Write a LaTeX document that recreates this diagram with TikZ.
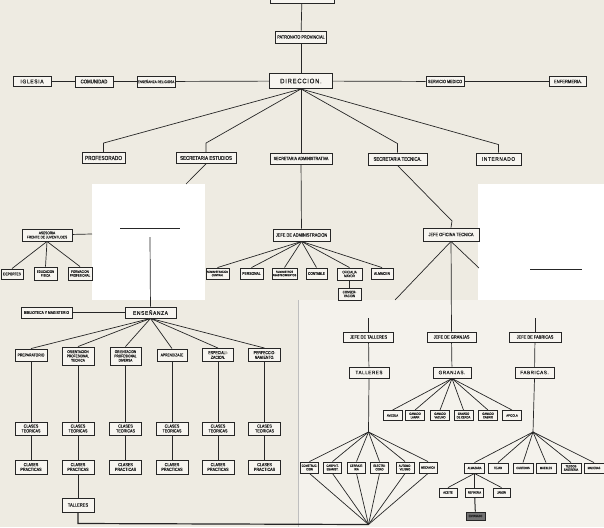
\documentclass[tikz,border=0pt]{standalone}
\usepackage{fontspec}
\setmainfont{Liberation Sans}
\newfontfamily\orgfont{Liberation Sans}[FakeStretch=0.82,FakeBold=0.6]
\newfontfamily\orgwide{Liberation Sans}[FakeStretch=0.9,FakeBold=0.6,LetterSpace=12]
\usepackage{xcolor}
\usepackage{tikz}
\usetikzlibrary{positioning,calc}

\definecolor{paper}{HTML}{EEEBE2}
\definecolor{patch}{HTML}{F4F2EC}
\definecolor{boxfill}{HTML}{F7F5F0}
\definecolor{ink}{HTML}{262626}

\begin{document}
\begin{tikzpicture}[x=1pt, y=-1pt,
        box/.style={draw=ink, fill=boxfill, line width=0.9pt, inner sep=0.4pt, align=center, text=ink, font=\orgfont\fontsize{5}{5.5}\selectfont},
        sz/.style 2 args={minimum width=#1pt, minimum height=#2pt},
        fs/.style 2 args={font=\orgfont\fontsize{#1}{#2}\selectfont},
        ws/.style 2 args={font=\orgwide\fontsize{#1}{#2}\selectfont},
        conn/.style={draw=ink, line width=0.7pt}
    ]

    % fondo del recorte
    \fill[paper] (0,0) rectangle (604,527);
    \fill[white] (92,184) rectangle (205,300);
    \fill[white] (478,184) rectangle (604,300);
    \fill[patch] (298,300) rectangle (604,527);
    \draw[ink!30, line width=0.3pt] (298,300) -- (298,527);
    \useasboundingbox (0,0) rectangle (604,527);

    % direccion
    \node[box, sz={64}{16}] (gobierno) at (302,-5) {};
    \node[box, sz={51}{12}, fs={4.7}{5}] (patronato) at (301,37) {PATRONATO PROVINCIAL};
    \node[box, sz={63}{15}, ws={6.5}{7}] (direccion) at (301,81) {DIRECCION.};

    \node[box, sz={38}{10}, ws={5.5}{6}] (iglesia) at (32,81.5) {IGLESIA};
    \node[box, sz={38}{11}, fs={5.3}{5.5}] (comunidad) at (94,81.5) {COMUNIDAD};
    \node[box, sz={38}{11}, fs={3.8}{4}] (ensrel) at (156,81.5) {ENSEÑANZA RELIGIOSA};
    \node[box, sz={38}{10}, fs={4.6}{5}] (servmed) at (445,81.5) {SERVICIO MEDICO};
    \node[box, sz={37}{10}, fs={5}{5}] (enfermeria) at (568,81.5) {ENFERMERIA.};

    % secretarias
    \node[box, sz={43}{11}, fs={5.8}{6}] (prof) at (103.5,158) {PROFESORADO};
    \node[box, sz={60}{11}, fs={5.4}{5.5}] (secest) at (206,158) {SECRETARIA ESTUDIOS};
    \node[box, sz={62}{11}, fs={4.5}{5}] (secadm) at (301,158.5) {SECRETARIA ADMINISTRATIVA};
    \node[box, sz={59}{12}, fs={5.2}{5.5}] (sectec) at (397.5,159) {SECRETARIA TECNICA.};
    \node[box, sz={45}{12}, ws={5.3}{6}] (intern) at (498.5,159) {INTERNADO};

    % asesoria
    \node[box, sz={50}{12}, fs={3.9}{4.2}] (asesoria) at (47,235) {ASESORIA\\FRENTE DE JUVENTUDES};
    \node[box, sz={22}{10}, fs={3.9}{4}] (deportes) at (12,274) {DEPORTES};
    \node[box, sz={23}{13}, fs={3.5}{3.8}] (edfis) at (45.5,273.5) {EDUCACION\\FISICA};
    \node[box, sz={24}{13}, fs={3.5}{3.8}] (formprof) at (80,273.5) {FORMACION\\PROFESIONAL};

    % administracion
    \node[box, sz={57}{12}, fs={4.8}{5}] (jefeadm) at (301.5,235) {JEFE DE ADMINISTRACION};
    \node[box, sz={23}{11}, fs={3}{3.4}] (admcent) at (217.5,273.5) {ADMINISTRACION\\CENTRAL};
    \node[box, sz={23}{11}, fs={4.1}{4}] (personal) at (251.5,273.5) {PERSONAL};
    \node[box, sz={25}{11}, fs={3}{3.4}] (suministros) at (284.5,273.5) {SUMINISTROS\\ABASTECIMIENTOS};
    \node[box, sz={21}{11}, fs={3.9}{4}] (contable) at (316.5,273.5) {CONTABLE};
    \node[box, sz={25}{12}, fs={3.6}{3.9}] (oficialia) at (349.5,274) {OFICIALIA\\MAYOR};
    \node[box, sz={22}{11}, fs={4}{4}] (almacen) at (382,273.5) {ALMACEN};
    \node[box, sz={23}{12}, fs={3.6}{3.9}] (conserv) at (349.5,294) {CONSER-\\VACION};

    % oficina tecnica
    \node[box, sz={56}{13}, fs={4.8}{5}] (jefeofi) at (451,234.5) {JEFE OFICINA TECNICA};

    % enseñanza
    \node[box, sz={51}{11}, ws={5.4}{6}] (ensenanza) at (150.5,312.5) {ENSEÑANZA};
    \node[box, sz={51}{11}, fs={4.1}{4.3}] (biblioteca) at (46.5,312.5) {BIBLIOTECA Y MAGISTERIO};
    \node[box, sz={32}{12}, fs={4.2}{4.3}] (ens1) at (31,355) {PREPARATORIO};
    \node[box, sz={32}{18}, fs={3.8}{4.3}] (ens2) at (78,356) {ORIENTACION\\PROFESIONAL\\TECNICA};
    \node[box, sz={31}{18}, fs={3.8}{4.3}] (ens3) at (125.5,356) {ORIENTACION\\PROFESIONAL\\DIVERSA};
    \node[box, sz={30}{12}, fs={4}{4.3}] (ens4) at (172,355) {APRENDIZAJE};
    \node[box, sz={31}{13}, fs={4.3}{4.7}] (ens5) at (218,355) {ESPECIALI-\\ZACION.};
    \node[box, sz={32}{13}, fs={4.3}{4.7}] (ens6) at (264.5,355) {PERFECCIO-\\NAMIENTO.};

    \foreach \i/\x in {1/31,2/78,3/125.5,4/172,5/218,6/264.5} {
        \node[box, sz={32}{13}, fs={4.5}{4.8}] (teo\i) at (\x,428.5) {CLASES\\TEORICAS};
        \node[box, sz={32}{14}, fs={4.5}{4.8}] (pra\i) at (\x,467) {CLASES\\PRACTICAS};
    }
    \node[box, sz={32}{14}, fs={4.9}{5}] (talleresA) at (78,505) {TALLERES};

    % jefaturas tecnicas
    \node[box, sz={50}{10}, fs={4.8}{5}] (jefetal) at (368.5,337) {JEFE DE TALLERES};
    \node[box, sz={49}{10}, fs={4.8}{5}] (jefegra) at (451.5,337) {JEFE DE GRANJAS};
    \node[box, sz={52}{10}, fs={4.8}{5}] (jefefab) at (535,337) {JEFE DE FABRICAS};
    \node[box, sz={40}{11}, ws={5}{5}] (talleres) at (369,372.5) {TALLERES};
    \node[box, sz={38}{11}, ws={5}{5}] (granjas) at (452,372.5) {GRANJAS.};
    \node[box, sz={39}{11}, ws={5}{5}] (fabricas) at (534.5,372.5) {FABRICAS.};

    \foreach \i/\x/\t in {1/392.5/AVICOLA, 2/415/{GANADO\\LANAR}, 3/440/{GANADO\\VACUNO},
            4/463.5/{GANADO\\DE CERDA}, 5/488/{GANADO\\CABRIO}, 6/512/APICOLA}
        \node[box, sz={19}{10}, fs={3.2}{3.5}] (gra\i) at (\x,415.5) {\t};

    \foreach \i/\x/\t in {1/309.5/{CONSTRUC-\\CION}, 2/332.5/{CARPINT.\\EBANIST.}, 3/356.5/{CERRAJE-\\RIA},
            4/379.5/{ELECTRI-\\CIDAD}, 5/405/{AUTOMO-\\VILISMO}, 6/428/MECANICA}
        \node[box, sz={18}{11}, fs={3.2}{3.5}] (tal\i) at (\x,467.5) {\t};

    \foreach \i/\x/\t in {1/474.5/ALMAZARA, 2/498/TEJAR, 3/523/CURTIDOS,
            4/546/MUEBLES, 5/571/{TEJIDOS\\SASTRERIA}, 6/594/MADERAS}
        \node[box, sz={20}{10}, fs={3.1}{3.4}] (fab\i) at (\x,468) {\t};

    \node[box, sz={18}{9}, fs={3.2}{3.4}] (aceite) at (448,492.5) {ACEITE};
    \node[box, sz={18}{9}, fs={3}{3.4}] (refineria) at (474.5,492.5) {REFINERIA};
    \node[box, sz={17}{9}, fs={3.2}{3.4}] (jabon) at (501.5,492.5) {JABON};
    \node[box, sz={19}{8}, fs={3}{3.4}, fill=ink!65] (envasado) at (475.5,516) {ENVASADO};

    % puntos de union
    \coordinate (corteA) at (186,184);
    \coordinate (barraA) at (120,228);
    \coordinate (barraB) at (180,228);
    \coordinate (bajadaA) at (150,237);
    \coordinate (corteAs) at (92,234);
    \coordinate (codoT) at (452,221);
    \coordinate (corteB) at (395,300);
    \coordinate (corteC) at (479,268);
    \coordinate (rayaA) at (530,269);
    \coordinate (rayaB) at (582,269);
    \coordinate (tramoA) at (368.5,318);
    \coordinate (tramoC) at (535,318);
    \coordinate (tfan) at (368.5,432);
    \coordinate (ffan) at (533,432);
    \coordinate (fondo) at (368.5,524.5);
    \coordinate (esquina) at (78,523.5);

    % lineas de direccion
    \draw[conn] (gobierno) -- (patronato);
    \draw[conn] (patronato) -- (direccion);
    \draw[conn] (iglesia) -- (comunidad);
    \draw[conn] (comunidad) -- (ensrel);
    \draw[conn] (ensrel) -- (direccion);
    \draw[conn] (direccion) -- (servmed);
    \draw[conn] (servmed) -- (enfermeria);
    \draw[conn] (direccion.south) -- ([yshift=9pt]prof.north) -- (prof.north);
    \draw[conn] (direccion.south) -- ([yshift=9pt]secest.north) -- (secest.north);
    \draw[conn] (direccion) -- (secadm);
    \draw[conn] (direccion.south) -- ([yshift=9pt]sectec.north) -- (sectec.north);
    \draw[conn] (direccion.south) -- ([yshift=8pt]intern.north) -- (intern.north);

    % estudios
    \draw[conn] (secest.south) -- (corteA);
    \draw[conn] (barraA) -- (barraB);
    \draw[conn] (bajadaA) -- (ensenanza);
    \draw[conn] (asesoria) -- (corteAs);
    \foreach \n in {deportes,edfis,formprof}
        \draw[conn] (asesoria.south) -- (\n.north);

    % administracion
    \draw[conn] (secadm) -- (jefeadm);
    \foreach \n in {admcent,personal,suministros,contable,oficialia,almacen}
        \draw[conn] (jefeadm.south) -- (\n.north);
    \draw[conn] (oficialia) -- (conserv);

    % tecnica
    \draw[conn] (sectec.south) -- (codoT) -- (jefeofi.north);
    \draw[conn] (jefeofi.south) -- (corteB);
    \draw[conn] (jefeofi.south) -- (corteC);
    \draw[conn] (jefeofi) -- (jefegra);
    \draw[conn] (rayaA) -- (rayaB);
    \draw[conn] (tramoA) -- (jefetal);
    \draw[conn] (tramoC) -- (jefefab);

    % talleres, granjas y fabricas
    \draw[conn] (jefetal) -- (talleres);
    \draw[conn] (talleres.south) -- (tfan);
    \draw[conn] (jefegra) -- (granjas);
    \draw[conn] (jefefab) -- (fabricas);
    \draw[conn] (fabricas.south) -- (ffan);
    \foreach \i in {1,...,6} {
        \draw[conn] (tfan) -- (tal\i.north);
        \draw[conn] (tal\i.south) -- (fondo);
        \draw[conn] (granjas.south) -- (gra\i.north);
        \draw[conn] (ffan) -- (fab\i.north);
    }
    \foreach \n in {aceite,refineria,jabon}
        \draw[conn] (fab1.south) -- (\n.north);
    \draw[conn, line width=1pt] (refineria) -- (envasado);

    % enseñanza
    \draw[conn] (biblioteca) -- (ensenanza);
    \foreach \i in {1,...,6} {
        \draw[conn] (ensenanza.south) -- (ens\i.north);
        \draw[conn] (ens\i) -- (teo\i);
        \draw[conn] (teo\i) -- (pra\i);
    }
    \draw[conn] (pra2) -- (talleresA);
    \draw[conn, line width=1.2pt] (talleresA.south) -- (esquina) -- (fondo);

\end{tikzpicture}
\end{document}
